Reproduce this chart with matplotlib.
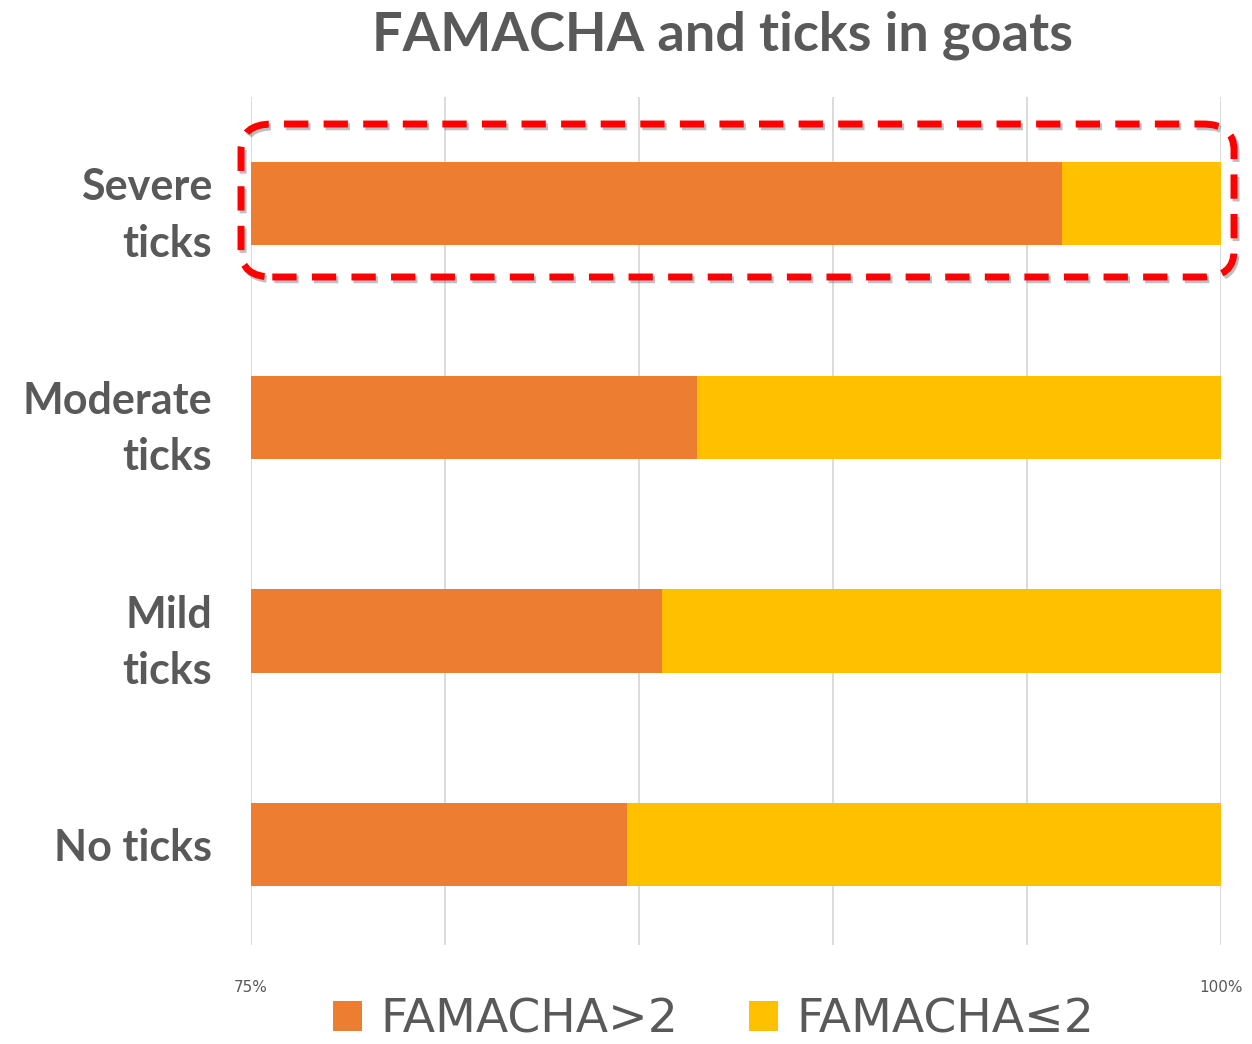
import matplotlib
matplotlib.use("Agg")
import matplotlib.pyplot as plt
from matplotlib.patches import FancyBboxPatch, Patch
import matplotlib.patheffects as pe

categories = ["Severe\nticks", "Moderate\nticks", "Mild\nticks", "No ticks"]
famacha_gt2 = [95.9, 86.5, 85.6, 84.7]
famacha_le2 = [100 - v for v in famacha_gt2]
series_names = ["FAMACHA>2", "FAMACHA≤2"]
xtick_vals = [75, 80, 85, 90, 95, 100]
xtick_labels = ["75%", "", "", "", "", "100%"]

orange = "#ED7D31"
yellow = "#FFC000"
gray = "#595959"

fig = plt.figure(figsize=(12.52, 10.44), dpi=100)
ax = fig.add_axes([251/1252, 1 - 945/1044, (1221-251)/1252, (945-97)/1044])

ypos = list(range(len(categories)))[::-1]
ax.barh(ypos, famacha_gt2, height=0.39, color=orange, zorder=3)
ax.barh(ypos, famacha_le2, left=famacha_gt2, height=0.39, color=yellow, zorder=3)

ax.set_xlim(75, 100)
ax.set_ylim(-0.47, 3.5)
ax.set_xticks(xtick_vals)
ax.set_xticklabels(xtick_labels, fontsize=11, color=gray, family="Liberation Sans Narrow")
ax.set_yticks(ypos)
ax.set_yticklabels(categories, fontsize=31, fontweight="bold", color=gray, family="Lato",
                   linespacing=1.5)
ax.tick_params(axis="both", length=0)
ax.tick_params(axis="y", pad=28)
ax.tick_params(axis="x", pad=25)
ax.grid(axis="x", color="#d9d9d9", linewidth=1.3, zorder=0)
for s in ax.spines.values():
    s.set_visible(False)

fig.text(722/1252, 1 - 35/1044, "FAMACHA and ticks in goats", ha="center", va="center",
         fontsize=39, fontweight="bold", color=gray, family="Lato")

# red dashed highlight box (in figure pixel coords)
x0, y0, x1, y1 = 241/1252, 1 - 277/1044, 1234/1252, 1 - 124/1044
box = FancyBboxPatch((x0, y0), x1 - x0, y1 - y0,
                     boxstyle="round,pad=0,rounding_size=0.025",
                     transform=fig.transFigure, fill=False, edgecolor="#FF0000",
                     linewidth=5, linestyle=(0, (3.5, 2.2)), zorder=10,
                     path_effects=[pe.SimpleLineShadow(offset=(1.5, -2), shadow_color="gray", alpha=0.5),
                                   pe.Normal()])
fig.add_artist(box)

handles = [Patch(facecolor=orange, edgecolor="none"), Patch(facecolor=yellow, edgecolor="none")]
leg = fig.legend(handles, series_names, loc="center", bbox_to_anchor=(714/1252, 1 - 1020/1044),
                 ncol=2, frameon=False, handlelength=0.6, handleheight=0.6,
                 handletextpad=0.4, columnspacing=1.5,
                 prop={"family": "Liberation Sans Narrow", "size": 34})
for t in leg.get_texts():
    t.set_color(gray)

fig.savefig("out.png", dpi=100)
